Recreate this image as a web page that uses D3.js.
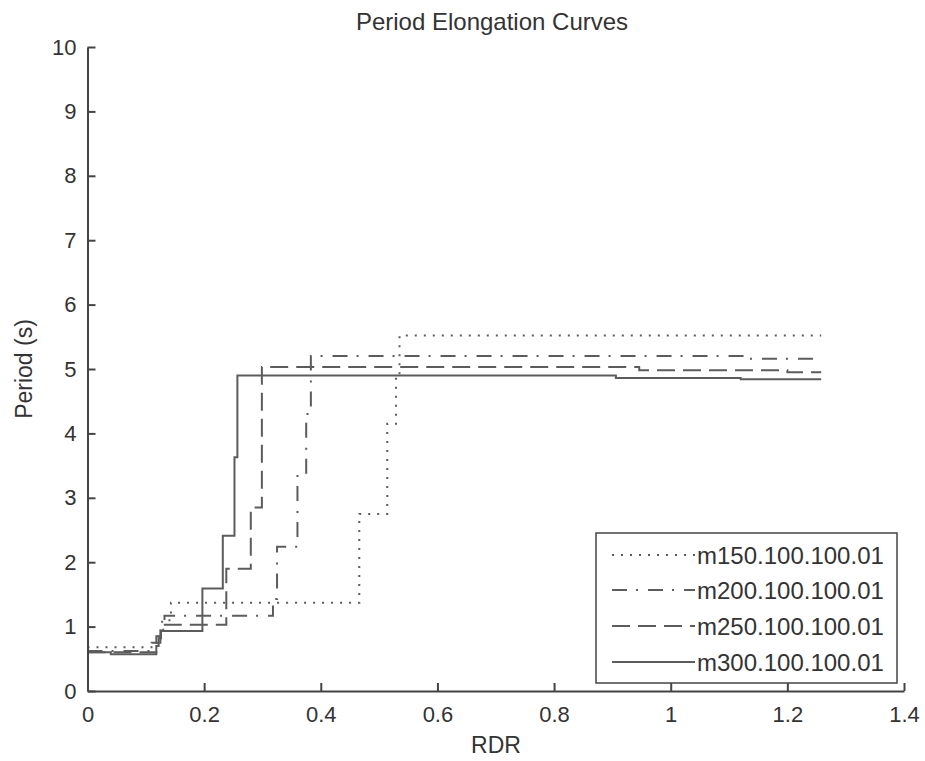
<!DOCTYPE html>
<html><head><meta charset="utf-8">
<script src="https://cdn.jsdelivr.net/npm/d3@7"></script>
<style>body{margin:0;background:#fff;} text{font-family:"Liberation Sans",Arial,sans-serif;fill:#333;}</style>
</head><body><svg id="c" width="925" height="761"></svg>
<script>
const seriesNames = ["m150.100.100.01","m200.100.100.01","m250.100.100.01","m300.100.100.01"];
const xM150 = [0, 0.118, 0.128, 0.143, 0.466, 0.514, 0.529, 0.535, 1.258];
const yM150 = [0.68, 0.85, 1.1, 1.37, 2.75, 4.15, 4.87, 5.52, 5.52];
const xM200 = [0, 0.11, 0.125, 0.132, 0.318, 0.325, 0.36, 0.375, 0.383, 1.125, 1.258];
const yM200 = [0.62, 0.75, 0.95, 1.17, 1.43, 2.24, 3.37, 4.3, 5.2, 5.16, 5.16];
const xM250 = [0, 0.1, 0.118, 0.125, 0.238, 0.28, 0.299, 0.946, 1.2, 1.258];
const yM250 = [0.6, 0.6, 0.85, 1.03, 1.9, 2.85, 5.03, 4.98, 4.95, 4.95];
const xM300 = [0, 0.04, 0.118, 0.122, 0.126, 0.197, 0.232, 0.252, 0.257, 0.906, 1.12, 1.258];
const yM300 = [0.6, 0.57, 0.7, 0.82, 0.93, 1.59, 2.41, 3.63, 4.9, 4.86, 4.84, 4.84];
const xTicks = [0, 0.2, 0.4, 0.6, 0.8, 1, 1.2, 1.4];
const yTicks = [0,1,2,3,4,5,6,7,8,9,10];

const xs = [xM150, xM200, xM250, xM300];
const ys = [yM150, yM200, yM250, yM300];
const dashes = ["2,7", "15,9,2,10", "18,8", null];

const svg = d3.select("#c");
const x = d3.scaleLinear().domain([0, 1.4]).range([87.5, 904]);
const y = d3.scaleLinear().domain([0, 10]).range([691, 47]);

const line = d3.line().x(d => x(d[0])).y(d => y(d[1])).curve(d3.curveStepAfter);

xs.forEach((xv, i) => {
  const pts = xv.map((v, j) => [v, ys[i][j]]);
  svg.append("path").datum(pts).attr("d", line)
    .attr("fill", "none").attr("stroke", "#5c5c5c").attr("stroke-width", 2)
    .attr("stroke-dasharray", dashes[i]);
});

const gx = svg.append("g").attr("transform", `translate(0,${y(0)})`)
  .call(d3.axisBottom(x).tickValues(xTicks).tickFormat(d => String(d)).tickSizeInner(-8).tickSizeOuter(0).tickPadding(15));
const gy = svg.append("g").attr("transform", `translate(${x(0)},0)`)
  .call(d3.axisLeft(y).tickValues(yTicks).tickFormat(d3.format("d")).tickSizeInner(-8).tickSizeOuter(0).tickPadding(11));
[gx, gy].forEach(g => {
  g.select(".domain").attr("stroke", "#444").attr("stroke-width", 2);
  g.selectAll(".tick line").attr("stroke", "#444").attr("stroke-width", 2);
  g.selectAll(".tick text").attr("font-size", 22).attr("fill", "#333")
    .attr("font-family", "'Liberation Sans', Arial, sans-serif");
});

svg.append("text").attr("x", 492).attr("y", 30).attr("text-anchor", "middle")
  .attr("font-size", 24).text("Period Elongation Curves");
svg.append("text").attr("x", 496).attr("y", 753).attr("text-anchor", "middle")
  .attr("font-size", 23).text("RDR");
svg.append("text").attr("transform", "translate(32,369) rotate(-90)").attr("text-anchor", "middle")
  .attr("font-size", 23).text("Period (s)");

// legend
const lg = svg.append("g");
lg.append("rect").attr("x", 596).attr("y", 533).attr("width", 301).attr("height", 150)
  .attr("fill", "#fff").attr("stroke", "#444").attr("stroke-width", 1.5);
const rowY = [555, 590, 626, 662];
seriesNames.forEach((n, i) => {
  lg.append("line").attr("x1", 612).attr("x2", 695).attr("y1", rowY[i]).attr("y2", rowY[i])
    .attr("stroke", "#5c5c5c").attr("stroke-width", 2).attr("stroke-dasharray", dashes[i]);
  lg.append("text").attr("x", 697).attr("y", rowY[i] + 8.5).attr("font-size", 24).text(n);
});
</script></body></html>
